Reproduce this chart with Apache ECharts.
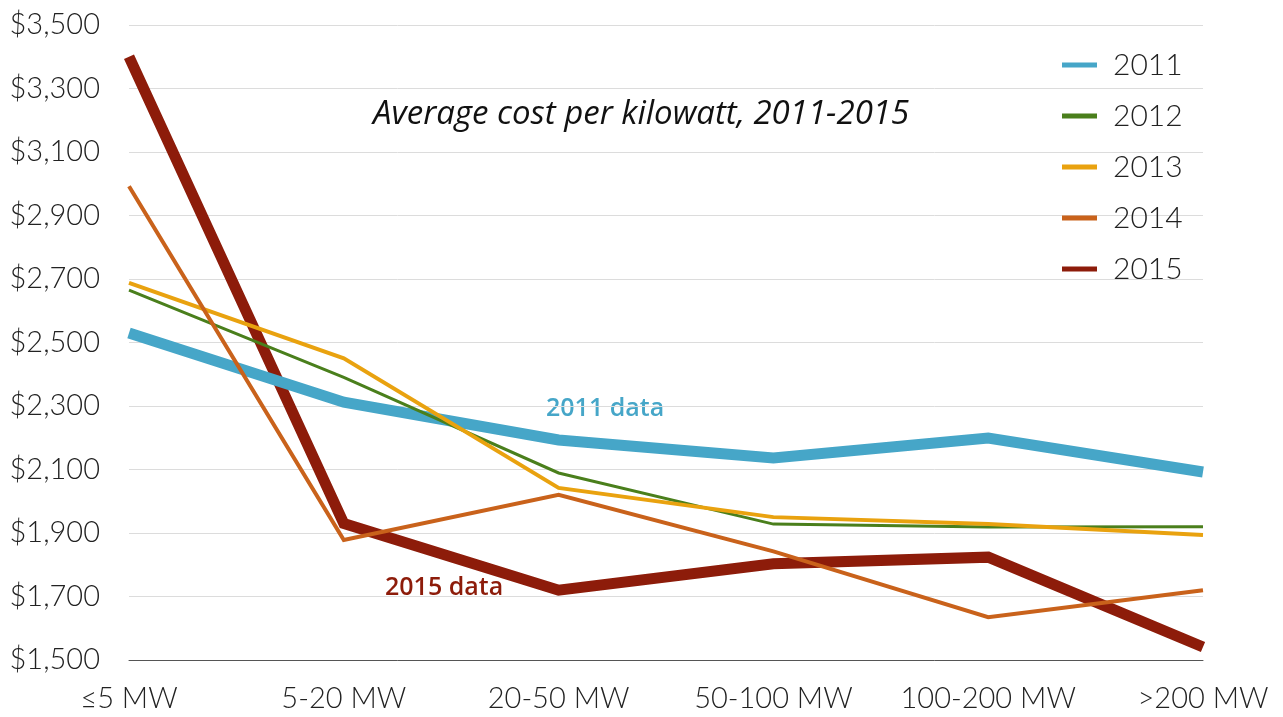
<!DOCTYPE html>
<html>
<head>
<meta charset="utf-8">
<script src="https://cdn.jsdelivr.net/npm/echarts@6/dist/echarts.min.js"></script>
<style>
  html, body { margin: 0; padding: 0; background: #fff; }
  #chart { width: 1283px; height: 717px; }
</style>
</head>
<body>
<div id="chart"></div>
<script>
// average cost per kW by project size, 2011-2015
const sizes = ['≤5 MW', '5-20 MW', '20-50 MW', '50-100 MW', '100-200 MW', '>200 MW'];
const years = ['2011', '2012', '2013', '2014', '2015'];
const cost2011 = [2530, 2312, 2193, 2136, 2199, 2092];
const cost2012 = [2665, 2390, 2089, 1928, 1919, 1920];
const cost2013 = [2688, 2450, 2042, 1950, 1928, 1894];
const cost2014 = [2992, 1878, 2020, 1842, 1635, 1720];
const cost2015 = [3400, 1930, 1720, 1803, 1824, 1541];

const FONT = 'Lato, "Open Sans", sans-serif';
const colors = { 2011: '#46a6c8', 2012: '#4a7f1c', 2013: '#e9a20f', 2014: '#c9621b', 2015: '#8d1c0a' };

const chart = echarts.init(document.getElementById('chart'));

const mk = (year, data, width, z) => ({
  name: year, type: 'line', data, z,
  symbol: 'none', smooth: false,
  lineStyle: { color: colors[year], width, cap: 'butt', join: 'miter' },
  itemStyle: { color: colors[year] },
});

chart.setOption({
  animation: false,
  backgroundColor: '#fff',
  textStyle: { fontFamily: FONT },
  grid: { left: 129, right: 80, top: 25, bottom: 57, containLabel: false },
  legend: {
    orient: 'vertical', left: 1057, top: 45,
    data: years, icon: 'rect',
    itemWidth: 35, itemHeight: 5, itemGap: 21,
    textStyle: { fontSize: 30, color: '#222', fontFamily: FONT, fontWeight: 300, lineHeight: 30, padding: [0, 0, 0, 11] },
  },
  xAxis: {
    type: 'category', data: sizes, boundaryGap: false,
    axisLine: { lineStyle: { color: '#555', width: 1 } },
    axisTick: { show: false },
    axisLabel: { color: '#222', fontSize: 29, fontWeight: 300, margin: 24, fontFamily: FONT, interval: 0 },
    splitLine: { show: false },
  },
  yAxis: {
    type: 'value', min: 1500, max: 3500, interval: 200,
    axisLine: { show: false }, axisTick: { show: false },
    axisLabel: {
      color: '#222', fontSize: 29, fontWeight: 300, margin: 29, fontFamily: FONT,
      formatter: v => '$' + v.toLocaleString('en-US'),
    },
    splitLine: { lineStyle: { color: '#dcdcdc', width: 1 } },
  },
  graphic: [
    { type: 'text', left: 373, top: 98, style: { text: 'Average cost per kilowatt, 2011-2015', font: 'italic 33px "Open Sans", sans-serif', fill: '#111' } },
    { type: 'text', left: 546, top: 396, style: { text: '2011 data', font: '600 25px "Open Sans", sans-serif', fill: colors[2011] } },
    { type: 'text', left: 385, top: 575, style: { text: '2015 data', font: '600 25px "Open Sans", sans-serif', fill: colors[2015] } },
  ],
  series: [
    mk('2015', cost2015, 11, 1),
    mk('2011', cost2011, 11, 2),
    mk('2012', cost2012, 3, 3),
    mk('2013', cost2013, 4, 4),
    mk('2014', cost2014, 4, 5),
  ],
});
</script>
</body>
</html>
